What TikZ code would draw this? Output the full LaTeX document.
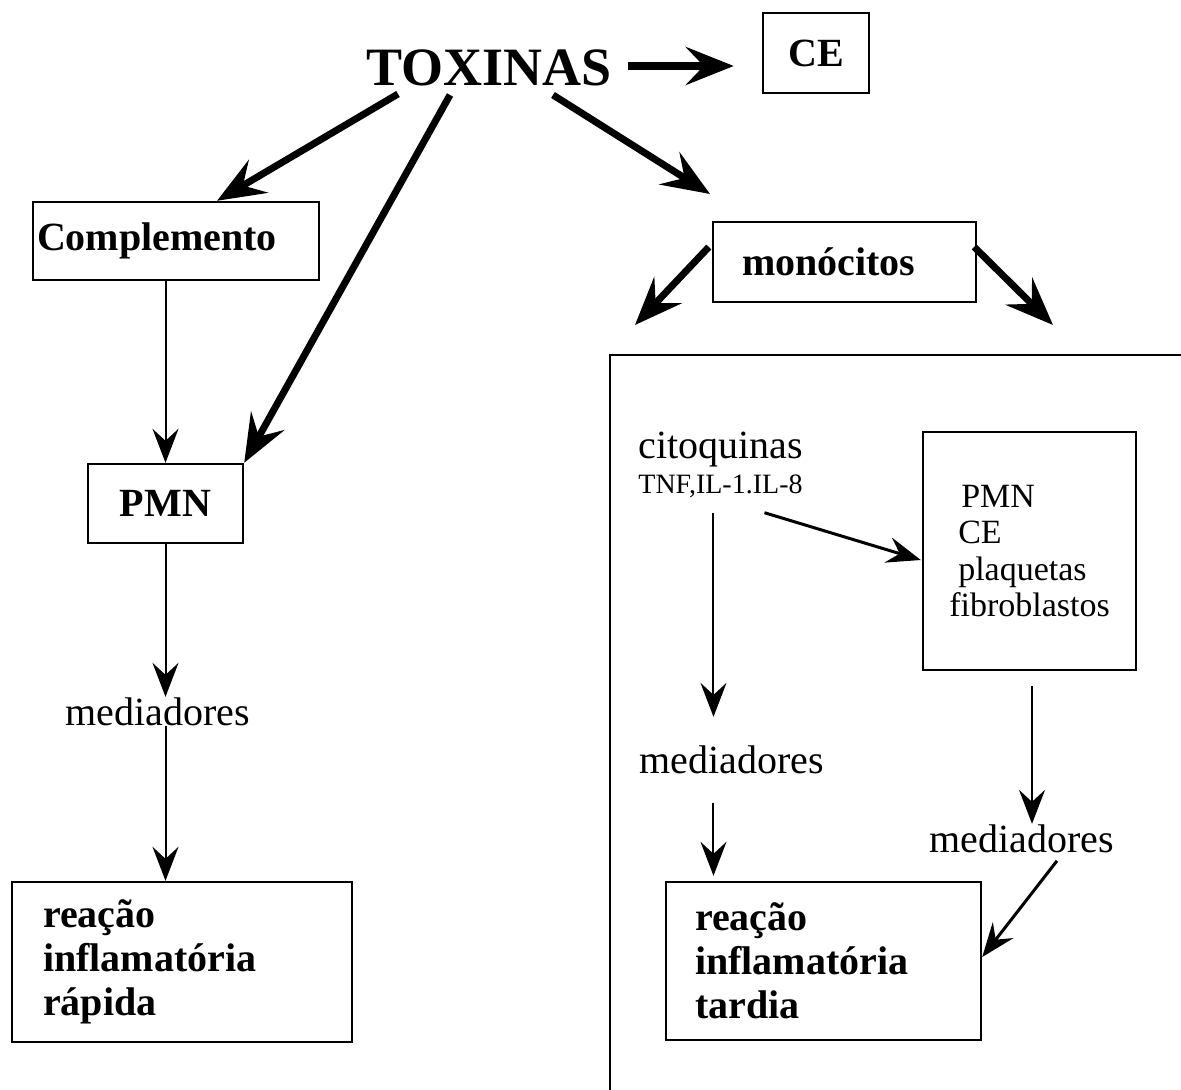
\documentclass[tikz,border=0pt]{standalone}
\usepackage{fontspec}
\setmainfont{Liberation Serif}
\usetikzlibrary{arrows.meta,calc}

\begin{document}
\begin{tikzpicture}[x=0.5pt,y=-0.5pt]
  \tikzstyle{caixa}=[draw,line width=1.2pt,inner sep=0pt,font=\fontsize{20}{22}\selectfont\bfseries]
  \tikzstyle{txt}=[inner sep=0pt,font=\fontsize{20}{24}\selectfont]
  \tikzstyle{fg}=[-{Stealth[length=24pt,width=19pt,inset=9pt]},line width=3.5pt]
  \tikzstyle{fn}=[-{Stealth[length=17pt,width=13pt,inset=6pt]},line width=1pt]

  \useasboundingbox (0,0) rectangle (1181,1090);
  \clip (0,0) rectangle (1181,1090);

  \node[anchor=base,inner sep=0pt,font=\fontsize{27}{30}\selectfont\bfseries] (tox) at (489,86) {TOXINAS};
  \node[caixa,minimum width=53pt,minimum height=40pt] (ce) at (816,53) {CE};
  \node[caixa,text width=139pt,inner xsep=2pt,minimum height=39pt,align=left] (comp) at (176,241) {Complemento};
  \node[caixa,minimum width=77.5pt,minimum height=39.5pt] (pmnL) at (165.5,503.5) {PMN};
  \node[txt,anchor=base] (medL) at (157.5,725) {mediadores};
  \node[caixa,text width=139pt,inner xsep=15.5pt,minimum height=80pt,align=left] (rapida) at (182,962) {reação\\inflamatória\\rápida};

  \node[caixa,text width=102.5pt,inner xsep=14.5pt,minimum height=40pt,align=left] (mono) at (844.5,262) {monócitos};
  \coordinate (pmono) at (710,194);
  \coordinate (bxesq) at (635,325);
  \coordinate (bxdir) at (1053,325);

  \draw[line width=1pt] (610,355) rectangle (1200,1110);

  \node[txt,anchor=base west] (cito) at (638,458) {citoquinas};
  \node[inner sep=0pt,font=\fontsize{14}{16}\selectfont,anchor=base west] (tnf) at (638,493) {TNF,IL-1.IL-8};
  \node[draw,line width=1.2pt,inner sep=0pt,minimum width=106.5pt,minimum height=119pt,align=left,
    font=\fontsize{17}{18.2}\selectfont] (rbox) at (1029.5,551)
    {\hspace*{6pt}PMN\\\hspace*{4.5pt}CE\\\hspace*{4.5pt}plaquetas\\fibroblastos};
  \node[txt,anchor=base] (medA) at (732,773) {mediadores};
  \node[txt,anchor=base] (medB) at (1022,852) {mediadores};
  \node[caixa,text width=128.5pt,inner xsep=14.5pt,minimum height=79pt,align=left] (tarde) at (823.5,961) {reação\\inflamatória\\tardia};

  \draw[fg,line width=4pt] ($(tox.base)+(139,-20)$) -- ($(ce.west)+(-28,13)$);
  \draw[fg] ($(tox.base)+(-91,8)$) -- ($(comp.north)+(41,0)$);
  \draw[fg] ($(tox.base)+(-39,9)$) -- (pmnL.north east);
  \draw[fg] ($(tox.base)+(64,9)$) -- (pmono);
  \draw[fn] (comp.south -| pmnL.north) -- (pmnL.north);
  \draw[fn] (pmnL.south) -- (pmnL.south |- medL.north);
  \draw[fn] (pmnL.south |- medL.south) -- (pmnL.south |- rapida.north);

  \draw[fg] ($(mono.west)+(-3,-15)$) -- (bxesq);
  \draw[fg] ($(mono.east)+(-3,-15)$) -- (bxdir);

  \coordinate (c1) at ($(tnf.south)+(-7,15)$);
  \coordinate (c2) at ($(rbox.south)+(2.5,15)$);
  \draw[fn] (c1) -- ($(c1 |- medA.north)+(0,-28)$);
  \draw[fn] ($(c1 |- medA.south)+(0,29)$) -- ($(c1 |- tarde.north)+(0,-5)$);
  \draw[fn,line width=1.5pt] ($(tnf.south)+(44,15)$) -- ($(rbox.west)+(-1,9)$);
  \draw[fn] (c2) -- (c2 |- medB.north);
  \draw[fn,line width=1.5pt] ($(medB.south)+(35,8)$) -- ($(tarde.east)+(0,-4)$);
\end{tikzpicture}
\end{document}
